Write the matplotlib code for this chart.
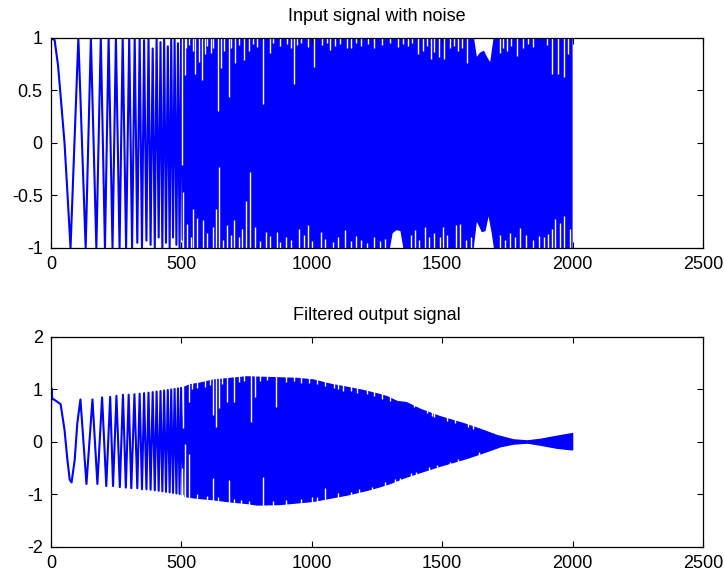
import matplotlib
matplotlib.use("Agg")
import matplotlib.pyplot as plt

plt.rcParams['font.family'] = ['Liberation Sans', 'DejaVu Sans']
plt.rcParams['axes.unicode_minus'] = False

# ---- input signal: visible turning points of the slow start (sample, value)
in_turn_x = [0, 14, 27, 38, 52, 63, 75,
             105, 133, 153, 174, 191, 207, 221, 236, 249, 263,
             275, 288, 300, 311, 321, 331, 340, 349, 357, 366,
             374, 382, 390, 398, 405, 413, 420, 427, 434, 441,
             448, 455, 461, 468, 474, 481, 487, 493, 499, 505,
             511]
in_turn_y = [1, 0.98, 0.74, 0.42, 0.0, -0.47, -1,
             1, -1, 1, -1, 1, -1, 1, -1, 1, -1,
             1, -1, 1, -1, 1, -0.95, 1, -1, 0.98, -0.93,
             1, -0.97, 0.9, -1, 1, -0.9, 0.96, -1, 1, -0.95,
             0.92, -1, 1, -0.9, 1, -0.97, 0.95, -1, 1, -0.92,
             1]

# dense part: envelope of the input signal
in_up_x = [505, 1622, 1633, 1645, 1660, 1672, 1684, 1697, 2000]
in_up_y = [1, 1, 0.82, 0.86, 0.88, 0.82, 0.77, 1, 1]
in_lo_x = [505, 1300, 1310, 1325, 1340, 1351, 1621, 1633, 1652, 1666, 1678, 1690, 1698, 2000]
in_lo_y = [-1, -1, -0.86, -0.83, -0.84, -1, -1, -0.75, -0.85, -0.84, -0.70, -0.86, -1, -1]

# gaps reaching down from the top / up from the bottom
in_gap_top_x = [502, 514, 519, 553, 566, 578, 591, 623, 639, 651, 665, 681, 706, 742,
                813, 838, 933, 1007, 1071, 1135, 1406, 1458, 1489, 1508, 1594,
                1786, 1921, 1944, 1966, 1983,
                530, 545, 600, 612, 690, 720, 760, 775, 790, 850, 880, 905, 920, 945,
                960, 985, 1040, 1060, 1090, 1110, 1150, 1170, 1190, 1215, 1240, 1270,
                1300, 1330, 1350, 1370, 1385, 1425, 1440, 1470, 1530, 1545, 1560, 1575,
                1720, 1735, 1750, 1765, 1810, 1830, 1850, 1900]
in_gap_top_y = [-0.21, 0.65, 0.9, 0.66, 0.77, 0.60, 0.85, 0.9, 0.30, 0.71, 0.88, 0.44, 0.76, 0.79,
                0.37, 0.86, 0.56, 0.72, 0.89, 0.9, 0.85, 0.80, 0.82, 0.80, 0.76,
                0.83, 0.66, 0.66, 0.63, 0.85,
                0.93, 0.88, 0.92, 0.86, 0.9, 0.93, 0.88, 0.94, 0.91, 0.95, 0.92, 0.94, 0.9, 0.93,
                0.95, 0.91, 0.93, 0.95, 0.92, 0.94, 0.9, 0.95, 0.92, 0.94, 0.9, 0.93,
                0.95, 0.91, 0.94, 0.92, 0.95, 0.88, 0.92, 0.87, 0.9, 0.92, 0.88, 0.9,
                0.86, 0.9, 0.88, 0.92, 0.9, 0.94, 0.91, 0.93]
in_gap_bot_x = [508, 521, 546, 559, 582, 620, 633, 646, 674, 702, 732, 749, 764, 783,
                826, 867, 951, 985, 1034, 1126, 1396, 1436, 1502, 1552, 1569,
                1799, 1921, 1934, 1953, 1968, 1991,
                535, 600, 660, 690, 720, 800, 840, 880, 900, 920, 970, 1000, 1050, 1080,
                1100, 1150, 1170, 1190, 1210, 1240, 1260, 1280, 1380, 1410, 1450, 1470,
                1490, 1520, 1590, 1610, 1720, 1740, 1760, 1780, 1820, 1850, 1870, 1890, 1905]
in_gap_bot_y = [-0.47, -0.77, -0.63, -0.71, -0.73, -0.80, -0.63, -0.23, -0.78, -0.73, -0.82, -0.55, -0.28, -0.80,
                -0.85, -0.85, -0.82, -0.78, -0.85, -0.83, -0.83, -0.80, -0.80, -0.78, -0.77,
                -0.81, -0.82, -0.72, -0.76, -0.70, -0.82,
                -0.9, -0.86, -0.92, -0.88, -0.9, -0.93, -0.89, -0.94, -0.9, -0.92, -0.88, -0.93, -0.91, -0.94,
                -0.9, -0.93, -0.89, -0.92, -0.95, -0.9, -0.93, -0.91, -0.88, -0.92, -0.9, -0.86,
                -0.9, -0.88, -0.92, -0.9, -0.88, -0.92, -0.86, -0.9, -0.88, -0.92, -0.89, -0.9, -0.87]

# ---- filtered output: turning points of the slow start
out_turn_x = [0, 2, 5, 20, 37, 52, 63, 72, 79, 91, 101, 113,
              136, 159, 178, 196, 212, 227, 238, 251, 264, 276,
              287, 298, 308, 320, 331, 340, 349, 357, 366, 374,
              382, 390, 398, 405, 413, 420, 427, 434, 441, 448,
              455, 461, 468, 474, 481, 487, 493, 499, 505, 511, 517]
out_turn_y = [0.6, 1.02, 0.83, 0.78, 0.72, 0.23, -0.34, -0.72, -0.77, -0.34, 0.36, 0.81,
              -0.80, 0.81, -0.80, 0.85, -0.84, 0.86, -0.84, 0.88, -0.86, 0.9,
              -0.87, 0.9, -0.88, 0.91, -0.88, 0.92, -0.9, 0.93, -0.9, 0.94,
              -0.91, 0.95, -0.92, 0.96, -0.93, 0.97, -0.94, 0.98, -0.95, 0.99,
              -0.96, 1.0, -0.97, 1.01, -0.98, 1.02, -0.99, 1.03, -1.0, 1.04, -1.02]

# dense part: envelope of the filtered output
out_up_x = [515, 534, 572, 623, 687, 751, 815, 879, 943, 1007, 1071, 1136, 1198,
            1263, 1290, 1328, 1363, 1417, 1493, 1582, 1647, 1712, 1774, 1827,
            1877, 1942, 2000]
out_up_y = [1.05, 1.09, 1.12, 1.18, 1.21, 1.24, 1.23, 1.22, 1.21, 1.18, 1.10, 1.04, 0.98,
            0.90, 0.86, 0.77, 0.75, 0.62, 0.48, 0.35, 0.24, 0.12, 0.04, 0.02,
            0.05, 0.11, 0.16]
out_lo_x = [515, 559, 623, 687, 751, 790, 879, 943, 1007, 1071, 1136, 1213,
            1263, 1301, 1351, 1417, 1493, 1597, 1674, 1724, 1774, 1827,
            1877, 1942, 2000]
out_lo_y = [-1.04, -1.07, -1.10, -1.14, -1.17, -1.2, -1.19, -1.16, -1.13, -1.07, -1.01, -0.92,
            -0.85, -0.79, -0.69, -0.58, -0.46, -0.31, -0.18, -0.09, -0.04, -0.02,
            -0.06, -0.12, -0.15]

out_gap_top_x = [508, 528, 623, 633, 646, 674, 702, 767, 783, 863,
                 540, 560, 590, 610, 655, 720, 740, 800, 830, 900, 930, 960, 990, 1020,
                 1050, 1085, 1100, 1120, 1150, 1175, 1210, 1240, 1270, 1300, 1390, 1440,
                 1460, 1470, 1520, 1550, 1600, 1620]
out_gap_top_y = [0.26, 0.77, 0.51, 0.29, 0.65, 0.77, 0.77, 0.39, 0.86, 0.67,
                 1.0, 1.02, 1.05, 1.08, 1.1, 1.15, 1.17, 1.17, 1.18, 1.15, 1.17, 1.13, 1.12, 1.1,
                 1.06, 1.02, 1.0, 0.98, 0.97, 0.94, 0.92, 0.88, 0.82, 0.78, 0.66, 0.55,
                 0.5, 0.47, 0.40, 0.37, 0.28, 0.25]
out_gap_bot_x = [502, 515, 528, 623, 681, 812, 1051,
                 560, 600, 640, 700, 730, 760, 850, 900, 960, 1000, 1020, 1100, 1150,
                 1180, 1230, 1280, 1320, 1340, 1380, 1400, 1450, 1480, 1530, 1560, 1640]
out_gap_bot_y = [-0.50, -0.03, -0.22, -0.69, -0.72, -0.66, -0.88,
                 -1.0, -1.03, -1.05, -1.08, -1.1, -1.12, -1.12, -1.1, -1.08, -1.05, -1.05, -0.97, -0.95,
                 -0.9, -0.85, -0.77, -0.70, -0.68, -0.6, -0.58, -0.48, -0.44, -0.38, -0.33, -0.2]

x_ticks = [0, 500, 1000, 1500, 2000, 2500]
in_yticks = [-1, -0.5, 0, 0.5, 1]
in_ylabels = ['-1', '-0.5', '0', '0.5', '1']
out_yticks = [-2, -1, 0, 1, 2]
out_ylabels = ['-2', '-1', '0', '1', '2']

BLUE = (0, 0, 1)

fig = plt.figure(figsize=(7.24, 5.73), dpi=100)
ax1 = fig.add_axes([0.0704, 0.5672, 0.9006, 0.3665])
ax2 = fig.add_axes([0.0704, 0.0454, 0.9006, 0.3665])


def style(ax, yticks, ylabels, title):
    ax.set_xlim(0, 2500)
    ax.set_xticks(x_ticks)
    ax.set_xticklabels([str(t) for t in x_ticks])
    ax.set_yticks(yticks)
    ax.set_yticklabels(ylabels)
    ax.set_ylim(yticks[0], yticks[-1])
    ax.tick_params(direction='in', top=True, right=True, length=4, width=0.8,
                   labelsize=13, pad=6, colors='black')
    for s in ax.spines.values():
        s.set_linewidth(0.9)
        s.set_zorder(5)
    ax.set_title(title, fontsize=13, pad=12)


# input signal
ax1.plot(in_turn_x, in_turn_y, color=BLUE, lw=1.5)
ax1.fill(in_up_x + in_lo_x[::-1], in_up_y + in_lo_y[::-1], color=BLUE, lw=0)
ax1.vlines(in_gap_top_x, in_gap_top_y, 1.5, color='white', lw=1.0)
ax1.vlines(in_gap_bot_x, -1.5, in_gap_bot_y, color='white', lw=1.0)
style(ax1, in_yticks, in_ylabels, 'Input signal with noise')

# filtered output
ax2.plot(out_turn_x, out_turn_y, color=BLUE, lw=1.5)
ax2.fill(out_up_x + out_lo_x[::-1], out_up_y + out_lo_y[::-1], color=BLUE, lw=1.0, edgecolor=BLUE)
ax2.vlines(out_gap_top_x, out_gap_top_y, 1.5, color='white', lw=1.0)
ax2.vlines(out_gap_bot_x, -1.5, out_gap_bot_y, color='white', lw=1.0)
style(ax2, out_yticks, out_ylabels, 'Filtered output signal')

fig.savefig('out.png', dpi=100)
